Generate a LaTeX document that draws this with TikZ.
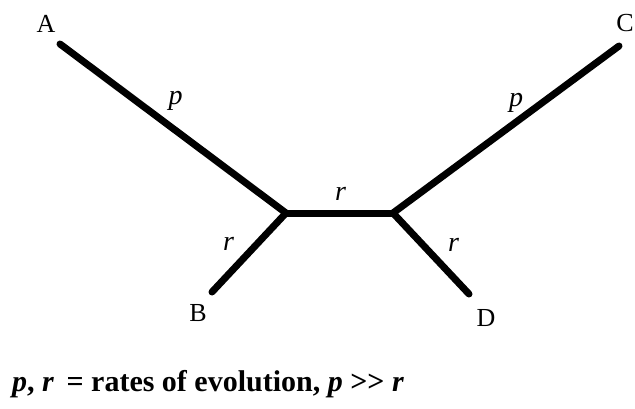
\documentclass[tikz,border=0pt]{standalone}
\usepackage{fontspec}
\setmainfont{Liberation Serif}

\begin{document}
\begin{tikzpicture}[
  x=1pt, y=1pt,
  branch/.style={line width=7pt, line cap=round, line join=round},
  leaf/.style={font=\fontsize{26}{30}\selectfont, inner sep=0pt},
  rate/.style={font=\fontsize{28}{32}\selectfont\itshape, inner sep=0pt},
  caption/.style={font=\fontsize{30}{34}\selectfont\bfseries, anchor=base west, inner sep=0pt}
]
\useasboundingbox (0,0) rectangle (635,-408);

% internal nodes and tips
\coordinate (left) at (286,-213);
\coordinate (right) at (393,-213);
\coordinate (tipA) at (60,-44);
\coordinate (tipB) at (212,-292);
\coordinate (tipC) at (619,-46);
\coordinate (tipD) at (469,-294);

% taxon names
\node[leaf] (A) at ([shift={(-14,20)}]tipA) {A};
\node[leaf] (C) at ([shift={(6,23)}]tipC) {C};
\node[leaf] (B) at ([shift={(-14,-21)}]tipB) {B};
\node[leaf] (D) at ([shift={(17,-24)}]tipD) {D};

% branches
\draw[branch] (tipA) -- node[rate, xshift=2.5pt, yshift=28pt] (pA) {p} (left);
\draw[branch] (tipB) -- node[rate, xshift=-20.5pt, yshift=8.5pt] (rB) {r} (left);
\draw[branch] (left) -- node[rate, xshift=1pt, yshift=19pt] (rLR) {r} (right);
\draw[branch] (right) -- node[rate, xshift=10pt, yshift=27pt] (pC) {p} (tipC);
\draw[branch] (right) -- node[rate, xshift=22.5pt, yshift=8.5pt] (rD) {r} (tipD);

% legend
\node[caption] (legend) at (12,-391) {\textit{p}, \textit{r}\, = rates of evolution, \textit{p} >{}> \textit{r}};
\end{tikzpicture}
\end{document}
